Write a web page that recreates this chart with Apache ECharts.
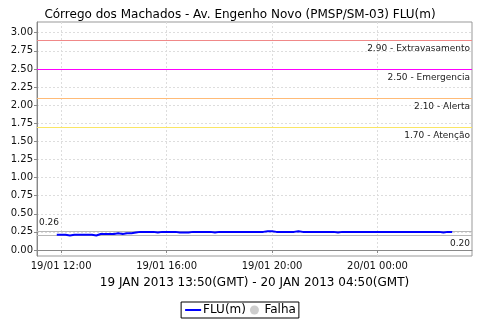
<!DOCTYPE html>
<html>
<head>
<meta charset="utf-8">
<script src="https://cdn.jsdelivr.net/npm/echarts@6/dist/echarts.min.js"></script>
<style>
  html, body { margin: 0; padding: 0; background: #fff; }
  #chart { width: 480px; height: 320px; }
</style>
</head>
<body>
<div id="chart"></div>
<script>
// leituras a cada 10 min, hora local, de 19/01 11:50 a 20/01 02:50
const startHour = 11 + 50 / 60
const stepHour = 10 / 60
const flu = [
  0.21, 0.21, 0.21, 0.20, 0.21, 0.21, 0.21, 0.21, 0.21, 0.20,
  0.22, 0.22, 0.22, 0.22, 0.23, 0.22, 0.23, 0.23, 0.24, 0.25,
  0.25, 0.25, 0.25, 0.24, 0.25, 0.25, 0.25, 0.25, 0.24, 0.24,
  0.24, 0.25, 0.25, 0.25, 0.25, 0.25, 0.24, 0.25, 0.25, 0.25,
  0.25, 0.25, 0.25, 0.25, 0.25, 0.25, 0.25, 0.25, 0.26, 0.26,
  0.25, 0.25, 0.25, 0.25, 0.25, 0.26, 0.25, 0.25, 0.25, 0.25,
  0.25, 0.25, 0.25, 0.25, 0.24, 0.25, 0.25, 0.25, 0.25, 0.25,
  0.25, 0.25, 0.25, 0.25, 0.25, 0.25, 0.25, 0.25, 0.25, 0.25,
  0.25, 0.25, 0.25, 0.25, 0.25, 0.25, 0.25, 0.25, 0.24, 0.25,
  0.25
]
const xTicks = [12, 16, 20, 24]
const yTicks = [0, 0.25, 0.5, 0.75, 1, 1.25, 1.5, 1.75, 2, 2.25, 2.5, 2.75, 3]
const limites = [
  { valor: 2.90, nome: 'Extravasamento', cor: '#f08888' },
  { valor: 2.50, nome: 'Emergencia', cor: 'rgb(255,0,255)' },
  { valor: 2.10, nome: 'Alerta', cor: '#ffbb77' },
  { valor: 1.70, nome: 'Atenção', cor: 'rgb(250,230,100)' }
]
const maxFlu = 0.26
const minFlu = 0.20

const fonte = '"DejaVu Sans", sans-serif'
const pontos = flu.map((v, i) => [startHour + i * stepHour, v])

const fmtHora = h => {
  const dia = h >= 24 ? '20/01' : '19/01'
  const hh = String(Math.round(h) % 24).padStart(2, '0')
  return dia + ' ' + hh + ':00'
}

// uma serie vazia por linha horizontal, so para o markLine
const linhaH = (nome, valor, cor, txt, pos) => ({
  name: nome, type: 'line', data: [], silent: true,
  color: cor,
  markLine: {
    silent: true, symbol: 'none', animation: false,
    lineStyle: { color: cor, type: 'solid', width: 1, opacity: 1 },
    label: {
      show: true, position: pos, distance: [2, 4],
      formatter: txt, color: '#222', fontSize: 9, fontFamily: fonte
    },
    data: [{ yAxis: valor, lineStyle: { color: cor } }]
  }
})

const seriesLimites = limites.map(l =>
  linhaH(l.nome, l.valor, l.cor, l.valor.toFixed(2) + ' - ' + l.nome, 'insideEndBottom'))
seriesLimites.push(linhaH('max', maxFlu, '#b8b8b8', maxFlu.toFixed(2), 'insideStartTop'))
seriesLimites.push(linhaH('min', minFlu, '#b8b8b8', minFlu.toFixed(2), 'insideEndBottom'))

const chart = echarts.init(document.getElementById('chart'))
chart.setOption({
  animation: false,
  title: {
    text: 'Córrego dos Machados - Av. Engenho Novo (PMSP/SM-03) FLU(m)',
    left: 'center', top: 4,
    textStyle: { fontSize: 12, fontWeight: 'normal', color: '#000', fontFamily: fonte }
  },
  legend: {
    bottom: 2, left: 'center',
    data: [
      { name: 'FLU(m)', itemStyle: { opacity: 0 } },
      { name: 'Falha', icon: 'circle' }
    ],
    itemWidth: 16, itemHeight: 9, itemGap: 4,
    padding: [2, 3],
    borderColor: '#000', borderWidth: 1, borderRadius: 0,
    textStyle: { fontSize: 12, color: '#000', fontFamily: fonte, padding: [0, 0, 0, -3] }
  },
  grid: { left: 37, right: 8, top: 22, bottom: 64, show: true, borderColor: '#999', borderWidth: 1 },
  xAxis: {
    type: 'value', min: 11 + 5 / 60, max: 27 + 35 / 60,
    name: '19 JAN 2013 13:50(GMT) - 20 JAN 2013 04:50(GMT)',
    nameLocation: 'middle', nameGap: 21,
    nameTextStyle: { fontSize: 12, color: '#000', fontFamily: fonte },
    axisLine: { lineStyle: { color: '#888' } },
    axisTick: { show: true, length: 3, customValues: xTicks, lineStyle: { color: '#888' } },
    axisLabel: { customValues: xTicks, formatter: fmtHora, fontSize: 10, color: '#111', fontFamily: fonte, margin: 5 },
    splitLine: { show: true, lineStyle: { color: '#ddd', type: [2, 2] } }
  },
  yAxis: {
    type: 'value', min: -0.083, max: 3.148,
    axisLine: { show: true, lineStyle: { color: '#888' } },
    axisTick: { show: true, length: 3, customValues: yTicks, lineStyle: { color: '#888' } },
    axisLabel: { customValues: yTicks, formatter: v => v.toFixed(2), fontSize: 10, color: '#111', fontFamily: fonte, margin: 4 },
    splitLine: { show: true, lineStyle: { color: '#ddd', type: [2, 2] } }
  },
  series: [
    {
      name: 'FLU(m)', type: 'line', data: pontos, symbol: 'none', z: 5,
      lineStyle: { color: '#0000ff', width: 2 }, itemStyle: { color: '#0000ff' }
    },
    {
      name: 'Falha', type: 'scatter', data: [], symbolSize: 8,
      itemStyle: { color: '#c0c0c0' }
    }
  ].concat(seriesLimites)
})
</script>
</body>
</html>
